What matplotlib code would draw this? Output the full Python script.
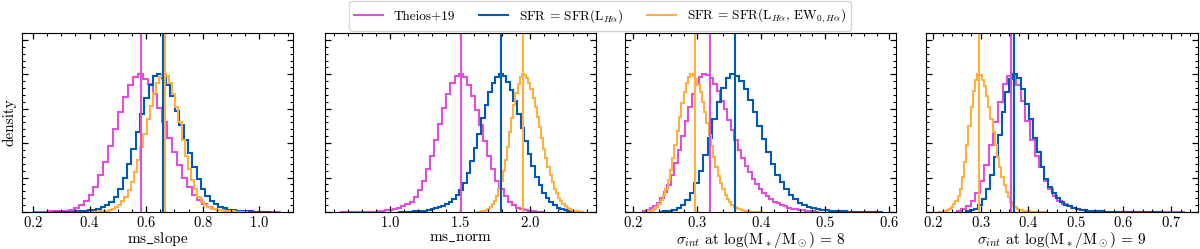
import numpy as np
import matplotlib.pyplot as plt
from matplotlib.lines import Line2D
from matplotlib.ticker import MultipleLocator, AutoMinorLocator

plt.rcParams['font.family'] = ['cmr10', 'DejaVu Serif']
plt.rcParams['mathtext.fontset'] = 'cm'
plt.rcParams['axes.formatter.use_mathtext'] = True

labels = ['Theios+19', r'SFR = SFR(L$_{H\alpha}$)',
          r'SFR = SFR(L$_{H\alpha}$, EW$_{0,H\alpha}$)']
colors = ['#dc50dc', '#005ab4', '#ffb040']

xlabels = [r'ms$\_$slope', r'ms$\_$norm',
           r'$\sigma_{int}$ at log(M$_*$/M$_\odot$) = 8',
           r'$\sigma_{int}$ at log(M$_*$/M$_\odot$) = 9']

# ---- ms_slope (bin range, normalised heights) ----
slope_ranges = [(0.205, 1.075), (0.27, 1.04), (0.40, 0.96)]
slope_theios = [0.002, 0.002, 0.003, 0.004, 0.005, 0.007, 0.010, 0.018, 0.030, 0.050,
                0.081, 0.125, 0.184, 0.270, 0.365, 0.480, 0.600, 0.725, 0.835, 0.920,
                0.980, 1.000, 0.965, 0.930, 0.855, 0.755, 0.650, 0.535, 0.435, 0.340,
                0.250, 0.184, 0.127, 0.087, 0.057, 0.036, 0.024, 0.016, 0.011, 0.008,
                0.006, 0.005, 0.004, 0.003, 0.002, 0.002, 0.001, 0.001, 0.001, 0.001]
slope_lha = [0.001, 0.001, 0.001, 0.002, 0.003, 0.004, 0.006, 0.008, 0.012, 0.018,
             0.025, 0.035, 0.050, 0.070, 0.108, 0.168, 0.244, 0.345, 0.458, 0.580,
             0.710, 0.830, 0.920, 0.985, 1.000, 0.975, 0.920, 0.840, 0.735, 0.630,
             0.525, 0.425, 0.330, 0.240, 0.170, 0.118, 0.080, 0.055, 0.038, 0.026,
             0.018, 0.013, 0.010, 0.007, 0.005, 0.004, 0.003, 0.002, 0.002, 0.001]
slope_lha_ew = [0.001, 0.002, 0.003, 0.004, 0.006, 0.009, 0.013, 0.021, 0.033, 0.050,
                0.078, 0.112, 0.158, 0.216, 0.287, 0.375, 0.470, 0.570, 0.673, 0.770,
                0.865, 0.935, 0.980, 1.000, 0.985, 0.937, 0.860, 0.760, 0.650, 0.520,
                0.410, 0.315, 0.232, 0.164, 0.110, 0.075, 0.052, 0.037, 0.027, 0.020,
                0.015, 0.011, 0.008, 0.006, 0.005, 0.004, 0.003, 0.002, 0.002, 0.001]
slope_medians = [0.582, 0.658, 0.665]

# ---- ms_norm ----
norm_ranges = [(0.645, 2.10), (1.06, 2.34), (1.62, 2.38)]
norm_theios = [0.001, 0.001, 0.001, 0.001, 0.002, 0.002, 0.002, 0.003, 0.003, 0.004,
               0.006, 0.012, 0.016, 0.022, 0.030, 0.040, 0.055, 0.075, 0.110, 0.160,
               0.228, 0.310, 0.410, 0.520, 0.640, 0.755, 0.855, 0.935, 0.985, 1.000,
               0.978, 0.923, 0.840, 0.740, 0.630, 0.516, 0.410, 0.315, 0.228, 0.164,
               0.113, 0.074, 0.048, 0.032, 0.021, 0.013, 0.008, 0.005, 0.003, 0.002]
norm_lha = [0.001, 0.001, 0.002, 0.003, 0.004, 0.005, 0.007, 0.010, 0.014, 0.020,
            0.026, 0.035, 0.045, 0.060, 0.075, 0.095, 0.120, 0.160, 0.210, 0.282,
            0.370, 0.463, 0.570, 0.680, 0.776, 0.868, 0.937, 0.984, 1.000, 0.987,
            0.947, 0.887, 0.805, 0.710, 0.613, 0.516, 0.418, 0.334, 0.256, 0.194,
            0.141, 0.100, 0.070, 0.048, 0.032, 0.022, 0.014, 0.009, 0.005, 0.003]
norm_lha_ew = [0.002, 0.003, 0.005, 0.008, 0.013, 0.020, 0.035, 0.056, 0.083, 0.118,
               0.168, 0.228, 0.296, 0.380, 0.475, 0.580, 0.680, 0.777, 0.864, 0.930,
               0.980, 1.000, 0.995, 0.975, 0.940, 0.890, 0.830, 0.765, 0.690, 0.620,
               0.535, 0.460, 0.390, 0.330, 0.270, 0.216, 0.170, 0.135, 0.104, 0.080,
               0.059, 0.043, 0.031, 0.022, 0.015, 0.010, 0.007, 0.005, 0.003, 0.002]
norm_medians = [1.507, 1.790, 1.950]

# ---- sigma_int at logM = 8 ----
sig8_ranges = [(0.215, 0.49), (0.24, 0.59), (0.222, 0.40)]
sig8_theios = [0.010, 0.017, 0.028, 0.044, 0.068, 0.100, 0.144, 0.198, 0.270, 0.355,
               0.450, 0.550, 0.660, 0.765, 0.855, 0.930, 0.980, 1.000, 0.993, 0.970,
               0.927, 0.877, 0.805, 0.750, 0.667, 0.594, 0.520, 0.452, 0.395, 0.335,
               0.287, 0.240, 0.205, 0.167, 0.140, 0.113, 0.095, 0.076, 0.063, 0.050,
               0.040, 0.032, 0.025, 0.019, 0.015, 0.011, 0.008, 0.006, 0.004, 0.003]
sig8_lha = [0.002, 0.004, 0.008, 0.017, 0.031, 0.053, 0.089, 0.140, 0.210, 0.300,
            0.413, 0.540, 0.673, 0.800, 0.900, 0.973, 1.000, 0.989, 0.952, 0.891,
            0.815, 0.726, 0.625, 0.528, 0.435, 0.350, 0.270, 0.220, 0.165, 0.122,
            0.095, 0.068, 0.050, 0.037, 0.027, 0.020, 0.015, 0.011, 0.008, 0.006,
            0.005, 0.004, 0.003, 0.002, 0.002, 0.001, 0.001, 0.001, 0.001, 0.001]
sig8_lha_ew = [0.005, 0.008, 0.015, 0.024, 0.037, 0.057, 0.085, 0.122, 0.170, 0.232,
               0.305, 0.390, 0.487, 0.590, 0.690, 0.790, 0.875, 0.940, 0.982, 1.000,
               0.990, 0.967, 0.923, 0.870, 0.800, 0.726, 0.643, 0.560, 0.480, 0.400,
               0.330, 0.265, 0.210, 0.164, 0.125, 0.095, 0.070, 0.050, 0.037, 0.027,
               0.019, 0.013, 0.009, 0.006, 0.004, 0.003, 0.002, 0.002, 0.001, 0.001]
sig8_medians = [0.321, 0.359, 0.297]

# ---- sigma_int at logM = 9 ----
sig9_ranges = [(0.25, 0.73), (0.27, 0.68), (0.21, 0.44)]
sig9_theios = [0.005, 0.020, 0.040, 0.078, 0.138, 0.224, 0.344, 0.490, 0.650, 0.800,
               0.926, 0.990, 1.000, 0.920, 0.805, 0.660, 0.520, 0.410, 0.330, 0.228,
               0.164, 0.117, 0.081, 0.056, 0.040, 0.028, 0.020, 0.014, 0.010, 0.007,
               0.005, 0.004, 0.003, 0.003, 0.002, 0.002, 0.002, 0.001, 0.001, 0.001,
               0.001, 0.001, 0.001, 0.001, 0.001, 0.001, 0.001, 0.001, 0.001, 0.001]
sig9_lha = [0.005, 0.011, 0.025, 0.051, 0.095, 0.164, 0.270, 0.400, 0.560, 0.726,
            0.868, 0.967, 1.000, 0.972, 0.895, 0.787, 0.673, 0.540, 0.435, 0.325,
            0.240, 0.180, 0.135, 0.100, 0.074, 0.054, 0.040, 0.029, 0.021, 0.015,
            0.011, 0.008, 0.006, 0.005, 0.004, 0.003, 0.003, 0.002, 0.002, 0.001,
            0.001, 0.001, 0.001, 0.001, 0.001, 0.001, 0.001, 0.001, 0.001, 0.001]
sig9_lha_ew = [0.001, 0.001, 0.002, 0.006, 0.012, 0.020, 0.035, 0.055, 0.080, 0.115,
               0.168, 0.252, 0.360, 0.487, 0.625, 0.760, 0.878, 0.962, 1.000, 0.993,
               0.962, 0.912, 0.845, 0.760, 0.673, 0.580, 0.487, 0.400, 0.325, 0.252,
               0.194, 0.146, 0.106, 0.076, 0.053, 0.036, 0.025, 0.017, 0.012, 0.008,
               0.006, 0.004, 0.003, 0.002, 0.002, 0.001, 0.001, 0.001, 0.001, 0.001]
sig9_medians = [0.363, 0.370, 0.297]

panels = [
    (slope_ranges, [slope_theios, slope_lha, slope_lha_ew], slope_medians, (0.16, 1.12), 0.2),
    (norm_ranges, [norm_theios, norm_lha, norm_lha_ew], norm_medians, (0.535, 2.47), 0.5),
    (sig8_ranges, [sig8_theios, sig8_lha, sig8_lha_ew], sig8_medians, (0.187, 0.611), 0.1),
    (sig9_ranges, [sig9_theios, sig9_lha, sig9_lha_ew], sig9_medians, (0.186, 0.757), 0.1),
]

fig = plt.figure(figsize=(12, 2.49), dpi=100)
lefts = [0.018, 0.2705, 0.5205, 0.772]
axes = [fig.add_axes([l, 0.1486, 0.2265, 0.7189]) for l in lefts]

for ax, (ranges, hists, medians, xlim, major), xl in zip(axes, panels, xlabels):
    for (lo, hi), h, med, c in zip(ranges, hists, medians, colors):
        edges = np.linspace(lo, hi, len(h) + 1)
        ax.stairs(h, edges, color=c, lw=1.5)
        ax.axvline(med, color=c, lw=1.5)
    ax.set_xlim(*xlim)
    ax.set_ylim(0, 1.3)
    ax.xaxis.set_major_locator(MultipleLocator(major))
    ax.xaxis.set_minor_locator(AutoMinorLocator())
    ax.yaxis.set_major_locator(MultipleLocator(0.25))
    ax.yaxis.set_minor_locator(AutoMinorLocator(5))
    ax.tick_params(which='both', direction='in', top=True, right=True,
                   labelsize=10.5, pad=2.5)
    ax.tick_params(which='major', length=4.5, width=0.9)
    ax.tick_params(which='minor', length=2.2, width=0.8)
    ax.set_yticklabels([])
    ax.set_xlabel(xl, fontsize=11, labelpad=0)

axes[0].set_ylabel('density', fontsize=11, labelpad=1)

handles = [Line2D([], [], color=c, lw=1.5) for c in colors]
fig.legend(handles, labels, loc='upper center', bbox_to_anchor=(0.5, 1.0),
           ncol=3, fontsize=9.5, frameon=True, borderaxespad=0.1,
           columnspacing=1.8, handlelength=2.2)

fig.savefig('out.png', dpi=100)
